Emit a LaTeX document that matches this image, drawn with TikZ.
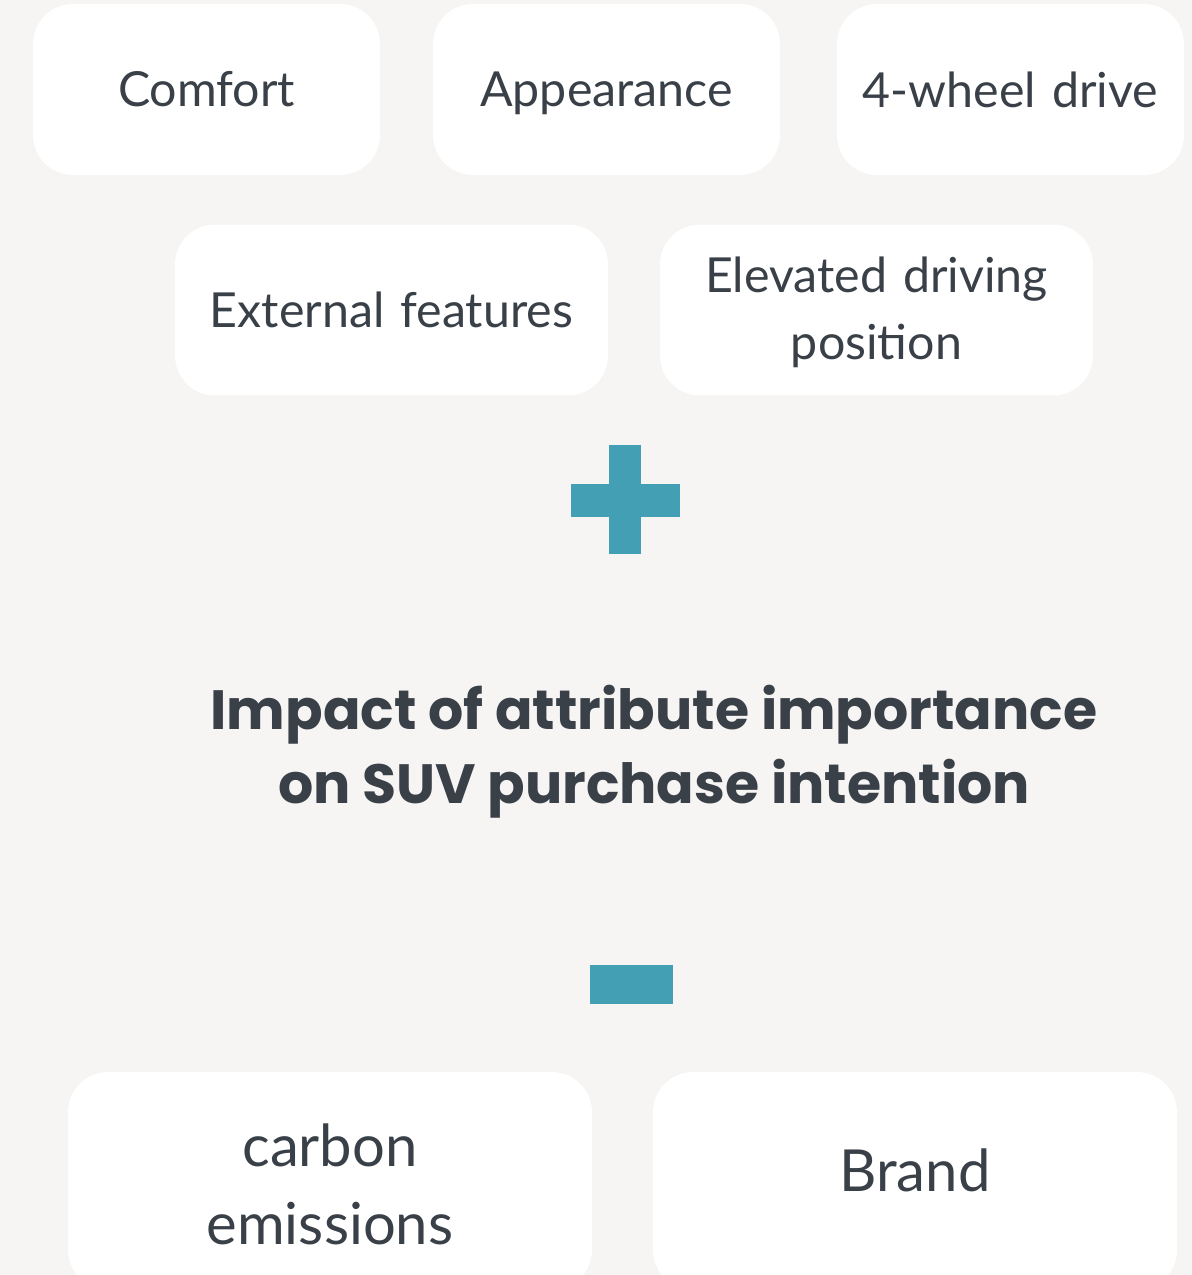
\documentclass[tikz,border=0pt]{standalone}
\usepackage{fontspec}
\setmainfont{Lato}
\newfontfamily\headfont{Poppins}
\usetikzlibrary{positioning}
\definecolor{paper}{HTML}{F6F5F3}
\definecolor{ink}{HTML}{3A4048}
\definecolor{teal}{HTML}{439FB3}
% lower a label inside its box without changing the box
\newcommand{\lowerby}[2]{\raisebox{-#1}[\height][\depth]{\begin{tabular}{@{}c@{}}#2\end{tabular}}}
\tikzset{
  attr/.style={fill=white, rounded corners=0.8cm, inner sep=0pt,
    minimum height=3.42cm, text width=6.94cm, align=center, text=ink,
    font=\fontsize{27.5}{38}\selectfont},
  wideattr/.style={attr, text width=8.66cm},
  lowattr/.style={attr, text width=10.48cm, minimum height=4.36cm,
    font=\fontsize{33}{44}\selectfont}
}
\begin{document}
\begin{tikzpicture}[x=0.02cm, y=-0.02cm]
  % page and background
  \fill[paper] (0,0) rectangle (1192,1275);
  \useasboundingbox (0,0) rectangle (1192,1275);

  % first row of attributes
  \node[attr] (comfort) at (206.5,89.5) {Comfort};
  \node[attr] (looks) at (606.5,89.5) {\lowerby{0.08cm}{Appearance}};
  \node[attr] (drive) at (1010.5,89.5) {\lowerby{0.1cm}{4-wheel drive}};

  % second row
  \node[wideattr] (external) at (391.5,310) {External features};
  \node[wideattr] (seat) at (876.5,310) {\lowerby{0.06cm}{Elevated driving\\position}};

  % plus sign
  \fill[teal] (609,445) rectangle (641,554);
  \fill[teal] (571,484) rectangle (680,517);

  % title
  \node[text=ink, align=center, font=\headfont\bfseries\fontsize{31.5}{42}\selectfont] (title) at (654,752)
    {Impact of attribute importance\\on SUV purchase intention};

  % minus sign
  \fill[teal] (590,965) rectangle (673,1004);

  % negative attributes
  \node[lowattr] (carbon) at (330,1181) {\lowerby{0.18cm}{carbon\\emissions}};
  \node[lowattr] (brand) at (915,1181) {\lowerby{-0.1cm}{Brand}};
\end{tikzpicture}
\end{document}
